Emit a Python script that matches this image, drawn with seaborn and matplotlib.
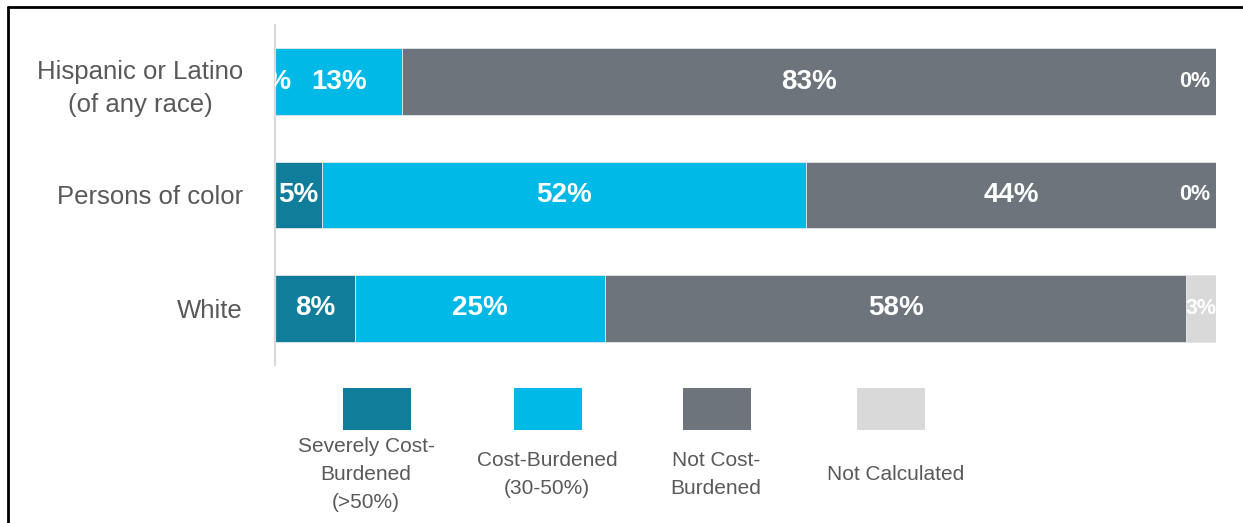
import matplotlib
matplotlib.use("Agg")
import matplotlib.pyplot as plt
import seaborn as sns
import numpy as np
from matplotlib.lines import Line2D
from matplotlib.patches import Rectangle

# Housing cost burden by race / ethnicity (shares of households, %)
groups = ["Hispanic or Latino\n(of any race)", "Persons of color", "White"]
severely_burdened = [4, 5, 8]
cost_burdened = [13, 52, 25]
not_burdened = [83, 44, 58]
not_calculated = [0, 0, 3]

series_names = ["Severely Cost-\nBurdened\n(>50%)", "Cost-Burdened\n(30-50%)",
                "Not Cost-\nBurdened", "Not Calculated"]
series_colors = ["#107E9A", "#00B9E6", "#6D747B", "#D9D9D9"]

# groups whose severe share is placed left of the axis origin
offset_groups = ["Hispanic or Latino\n(of any race)"]

W, H = 1243, 523
sns.set_theme(style="white")
plt.rcParams["font.family"] = ["Liberation Sans", "DejaVu Sans"]

values = np.array([severely_burdened, cost_burdened, not_burdened, not_calculated], float)
n_series, n_groups = values.shape
shares = np.zeros_like(values)
lefts = np.zeros_like(values)
for j, g in enumerate(groups):
    if g in offset_groups:
        total = values[1:, j].sum()
        start = -values[0, j] / total
    else:
        total = values[:, j].sum()
        start = 0.0
    shares[:, j] = values[:, j] / total
    lefts[:, j] = start + np.concatenate([[0], np.cumsum(shares[:-1, j])])

fig = plt.figure(figsize=(W / 100, H / 100), dpi=100)
ax = fig.add_axes([275 / W, 1 - 365 / H, (1216 - 275) / W, (365 - 25) / H])

for i in range(n_series):
    sns.barplot(x=shares[i], y=groups, left=lefts[i], orient="y", color=series_colors[i],
                saturation=1, width=0.59, errorbar=None, edgecolor="#E6E6E6",
                linewidth=0.6, ax=ax)

# value labels
for i in range(n_series):
    for j in range(n_groups):
        w = shares[i, j]
        x0 = lefts[i, j]
        label = f"{values[i, j]:.0f}%"
        small = i == n_series - 1
        fs = 15.5 if small else 20
        if w == 0:
            x, ha = x0 - 0.006, "right"
        else:
            x, ha = max(x0 + w / 2, -0.003), "center"
        ax.text(x, j, label, ha=ha, va="center", color="white", fontweight="bold",
                fontsize=fs, clip_on=True)

ax.set_xlim(0, 1)
ax.set_ylim(2.5, -0.5)
ax.set_xlabel("")
ax.set_ylabel("")
ax.set_xticks([])
ax.set_yticks(range(n_groups))
ax.set_yticklabels(groups, fontsize=18.5, color="#595959", multialignment="center",
                   linespacing=1.45)
ax.tick_params(axis="y", length=0, pad=23)
for side in ["top", "right", "bottom"]:
    ax.spines[side].set_visible(False)
ax.spines["left"].set_color("#D9D9D9")
ax.spines["left"].set_linewidth(1.6)

# legend: swatches with captions underneath
swatch_x = [343, 514, 683, 857]
text_x = [366, 547, 716, 896]
for k in range(n_series):
    fig.add_artist(Rectangle((swatch_x[k] / W, 1 - 430 / H), 68 / W, 42 / H,
                             transform=fig.transFigure, facecolor=series_colors[k],
                             edgecolor="none"))
    fig.text(text_x[k] / W, 1 - 475 / H, series_names[k], ha="center", va="center",
             ma="center", fontsize=15, color="#595959", linespacing=1.6)

# outer frame (left and top edges)
fig.add_artist(Line2D([8 / W, 8 / W], [0, 1 - 7 / H], transform=fig.transFigure,
                      color="black", lw=2))
fig.add_artist(Line2D([8 / W, 1], [1 - 7 / H, 1 - 7 / H], transform=fig.transFigure,
                      color="black", lw=2))

fig.savefig("out.png", dpi=100, facecolor="white")
